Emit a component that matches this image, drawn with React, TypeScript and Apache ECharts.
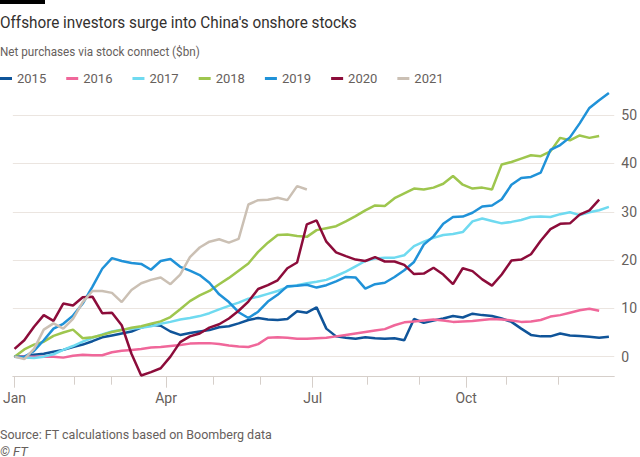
import React, { useEffect, useRef } from "react";
import * as echarts from "echarts";

// ---- data (readings every 4 trading days from 1 Jan) ----
const years = ["2015", "2016", "2017", "2018", "2019", "2020", "2021"];
const colors = ["#0f5499", "#f0679a", "#6fdaf0", "#9ec64e", "#2092d8", "#8c0c3a", "#cbc0b4"];
const STEP = 4; // trading days between readings

const v2015 = [0, 0.1, 0.4, 0.6, 1.0, 1.4, 2.0, 2.5, 3.2, 4.0, 4.4, 4.8, 5.2, 6.0, 6.6, 6.4, 5.2, 4.5, 4.9, 5.2, 5.5, 6.1, 6.3, 6.9, 7.6, 8.0, 7.7, 7.6, 7.8, 9.4, 9.1, 10.2, 5.8, 4.2, 3.9, 3.7, 4.0, 3.8, 3.7, 3.8, 3.4, 7.8, 7.0, 7.5, 7.9, 8.4, 8.1, 8.9, 8.6, 8.4, 7.9, 7.2, 5.8, 4.5, 4.2, 4.2, 4.8, 4.4, 4.3, 4.1, 3.9, 4.1];
const v2016 = [0, 0, 0, 0, 0, -0.2, 0.2, 0.4, 0.3, 0.3, 0.9, 1.2, 1.4, 1.6, 1.9, 2.0, 2.2, 2.4, 2.7, 2.8, 2.8, 2.6, 2.3, 2.1, 2.0, 2.6, 3.9, 4.0, 3.9, 3.7, 3.7, 3.8, 3.9, 4.2, 4.5, 4.8, 5.1, 5.4, 5.7, 6.5, 7.1, 7.3, 7.5, 7.7, 7.5, 7.2, 7.3, 7.4, 7.6, 7.8, 7.7, 7.5, 7.2, 7.3, 7.6, 8.3, 8.6, 9.1, 9.6, 9.9, 9.5];
const v2017 = [0, -0.2, -0.3, 0.0, 0.5, 1.4, 2.2, 3.1, 3.9, 4.6, 5.2, 5.6, 5.8, 6.0, 6.3, 6.8, 7.2, 7.7, 8.0, 8.4, 9.0, 9.8, 10.5, 11.2, 12.0, 12.4, 13.0, 13.6, 14.4, 14.8, 15.2, 15.5, 15.9, 16.7, 17.6, 18.7, 19.8, 20.3, 20.5, 20.5, 21.0, 22.9, 23.8, 24.6, 25.2, 25.4, 25.8, 28.0, 28.6, 28.1, 27.6, 27.9, 28.3, 28.9, 29.0, 28.9, 29.5, 29.9, 29.3, 29.9, 30.3, 31.0];
const v2018 = [0, 1.5, 2.5, 3.1, 4.3, 5.0, 5.6, 3.8, 4.0, 4.5, 5.1, 5.5, 6.0, 6.3, 6.8, 7.3, 8.2, 9.8, 11.5, 12.7, 13.6, 15.0, 16.3, 17.8, 19.3, 21.7, 23.6, 25.2, 25.3, 25.0, 24.8, 26.2, 26.6, 27.0, 28.0, 29.1, 30.3, 31.3, 31.2, 32.8, 33.8, 34.8, 34.6, 35.0, 35.8, 37.4, 35.6, 34.8, 35.0, 34.6, 39.8, 40.3, 41.0, 41.7, 41.5, 42.5, 45.3, 44.8, 45.8, 45.3, 45.7];
const v2019 = [0, -0.1, 1.2, 3.4, 5.8, 6.8, 8.5, 11.0, 14.5, 18.2, 20.4, 19.8, 19.4, 19.2, 18.0, 19.8, 20.2, 18.6, 17.8, 16.9, 15.3, 12.9, 11.3, 9.2, 8.0, 9.3, 11.4, 12.8, 14.6, 14.7, 14.9, 14.3, 14.8, 15.6, 16.5, 16.4, 14.1, 15.0, 15.3, 16.5, 17.9, 19.6, 23.2, 24.9, 27.5, 28.9, 29.0, 29.8, 31.1, 31.3, 32.6, 35.6, 37.0, 37.2, 38.1, 42.8, 43.8, 45.4, 48.3, 51.5, 53.1, 54.6];
const v2020 = [1.6, 3.4, 6.2, 8.6, 7.4, 11.0, 10.6, 12.3, 12.4, 9.0, 9.1, 6.5, 0.6, -3.9, -3.2, -2.4, 0.0, 3.0, 4.2, 4.8, 6.0, 6.7, 7.9, 9.5, 11.4, 14.0, 14.8, 15.8, 18.3, 19.5, 27.4, 28.2, 23.8, 21.6, 20.8, 20.1, 19.8, 20.6, 19.7, 19.7, 19.0, 17.1, 17.2, 18.4, 17.0, 15.0, 18.3, 17.7, 16.0, 14.7, 17.0, 19.9, 20.1, 21.2, 24.0, 26.4, 27.5, 27.6, 29.4, 30.3, 32.5];
const v2021 = [0, -0.5, 1.6, 5.6, 6.9, 5.8, 7.8, 11.3, 13.6, 13.6, 13.2, 11.3, 13.8, 15.2, 15.9, 16.4, 15.0, 17.0, 20.6, 22.6, 23.8, 24.3, 23.6, 24.4, 31.5, 32.4, 32.5, 32.9, 32.4, 35.3, 34.6];
const seriesValues = [v2015, v2016, v2017, v2018, v2019, v2020, v2021];

// x axis: trading days since 1 Jan; month starts
const monthStarts = [0, 24.5, 39.8, 62.2, 81.4, 100.9, 122.4, 144.9, 166.2, 185.4, 202.0, 223.4];
const monthNames = ["Jan", "Feb", "Mar", "Apr", "May", "Jun", "Jul", "Aug", "Sep", "Oct", "Nov", "Dec"];
const labelledMonths = ["Jan", "Apr", "Jul", "Oct"];
const yTicks = [0, 10, 20, 30, 40, 50];

const FONT = "Roboto, 'Noto Sans', sans-serif";
const GREY = "#66605c";

export default function App() {
  const ref = useRef<HTMLDivElement>(null);
  useEffect(() => {
    if (!ref.current) return;
    const chart = echarts.init(ref.current, undefined, { renderer: "svg" });
    const labelled = monthStarts.filter((_, i) => labelledMonths.includes(monthNames[i]));
    const nameFor = (v: number) => {
      let best = 0;
      monthStarts.forEach((m, i) => {
        if (Math.abs(m - v) < Math.abs(monthStarts[best] - v)) best = i;
      });
      return monthNames[best];
    };
    chart.setOption({
      animation: false,
      backgroundColor: "#ffffff",
      textStyle: { fontFamily: FONT },
      grid: { left: 10, right: 25, top: 91, bottom: 80.3, containLabel: false },
      legend: {
        data: years,
        left: 0,
        top: 72,
        padding: 0,
        icon: "rect",
        itemWidth: 12,
        itemHeight: 3,
        itemGap: 20,
        textStyle: { color: GREY, fontSize: 13, fontFamily: FONT, width: 28 },
      },
      xAxis: [
        {
          type: "value",
          position: "bottom",
          min: -0.7,
          max: 246.2,
          axisLine: { show: true, onZero: false, lineStyle: { color: "#d6cfca", width: 1 } },
          axisTick: { show: true, customValues: monthStarts, length: 8, lineStyle: { color: "#d6cfca" } },
          axisLabel: {
            customValues: labelled,
            formatter: (v: number) => nameFor(v),
            color: GREY,
            fontSize: 14,
            fontFamily: FONT,
            margin: 14,
          },
          splitLine: { show: false },
        },
        {
          type: "value",
          position: "bottom",
          min: -0.7,
          max: 246.2,
          axisLine: { show: false, onZero: false },
          axisTick: { show: true, customValues: labelled, length: 11, lineStyle: { color: "#d6cfca" } },
          axisLabel: { show: false },
          splitLine: { show: false },
        },
      ],
      yAxis: {
        type: "value",
        position: "right",
        min: -4.15,
        max: 55,
        axisLine: { show: false },
        axisTick: { show: false, customValues: yTicks },
        axisLabel: { customValues: yTicks, color: GREY, fontSize: 14, fontFamily: FONT, margin: 7 },
        splitLine: { show: true, lineStyle: { color: "#ebe5e0", width: 1 } },
      },
      series: years.map((y, k) => ({
        name: y,
        type: "line",
        xAxisIndex: 0,
        data: seriesValues[k].map((v, i) => [i * STEP, v]),
        showSymbol: false,
        symbol: "none",
        color: colors[k],
        lineStyle: { width: 2.5, color: colors[k] },
        emphasis: { disabled: true },
      })),
      graphic: [
        { type: "rect", shape: { x: 0, y: 0, width: 45, height: 4 }, style: { fill: "#000000" } },
        {
          type: "text",
          x: 0,
          y: 22,
          scaleX: 0.9,
          style: { text: "Offshore investors surge into China's onshore stocks", font: `17px ${FONT}`, fill: "#33302e", verticalAlign: "middle", align: "left" },
        },
        {
          type: "text",
          x: 0,
          y: 52,
          scaleX: 0.9,
          style: { text: "Net purchases via stock connect ($bn)", font: `13px ${FONT}`, fill: GREY, verticalAlign: "middle", align: "left" },
        },
        {
          type: "text",
          x: 0,
          y: 434,
          scaleX: 0.96,
          style: { text: "Source: FT calculations based on Boomberg data", font: `13px ${FONT}`, fill: GREY, verticalAlign: "middle", align: "left" },
        },
        {
          type: "text",
          x: 0,
          y: 451,
          style: { text: "© FT", font: `italic 13px ${FONT}`, fill: GREY, verticalAlign: "middle", align: "left" },
        },
      ],
    });
    return () => chart.dispose();
  }, []);
  return <div ref={ref} style={{ position: "absolute", left: 0, top: 0, width: 640, height: 457 }} />;
}
